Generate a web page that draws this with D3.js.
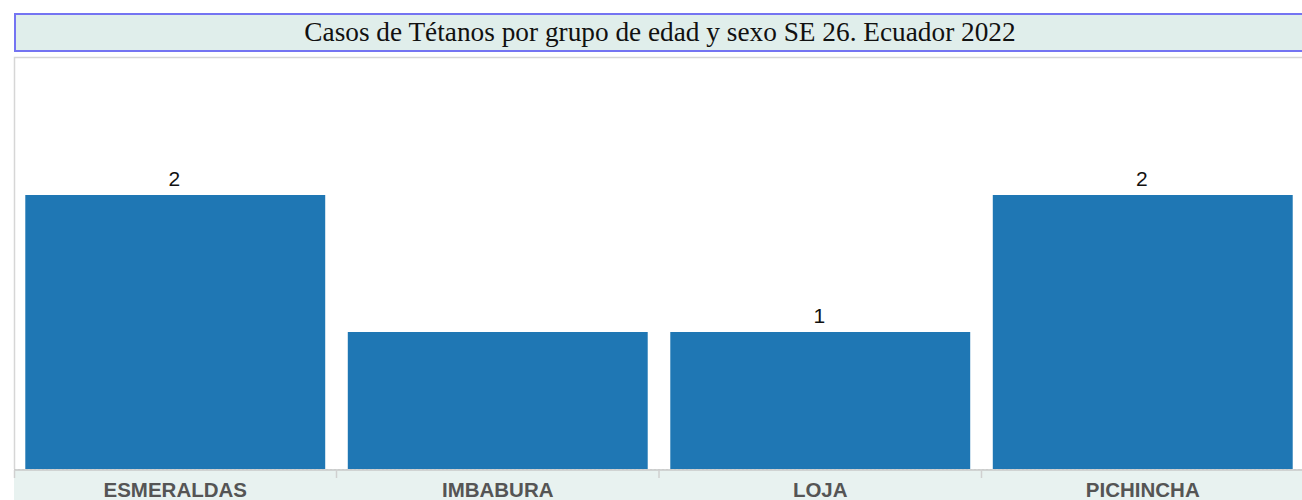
<!DOCTYPE html>
<html><head><meta charset="utf-8">
<script src="https://cdn.jsdelivr.net/npm/d3@7"></script>
<style>body{margin:0;background:#fff;}svg{display:block;}</style>
</head><body>
<svg id="chart" width="1302" height="500"></svg>
<script>
const title = "Casos de Tétanos por grupo de edad y sexo SE 26. Ecuador 2022";
const categories = ["ESMERALDAS", "IMBABURA", "LOJA", "PICHINCHA"];
const values = [2, 1, 1, 2];
const valueLabels = ["2", "", "1", "2"];
const yDomain = [0, 3];

const svg = d3.select("#chart");
const W = 1302, H = 500;
const plot = {left: 14, right: 1304, top: 57, bottom: 469};

// title box
svg.append("rect").attr("x", 15).attr("y", 14).attr("width", 1300).attr("height", 37)
  .attr("fill", "#e0eeeb").attr("stroke", "#7474f2").attr("stroke-width", 2);
svg.append("text").attr("x", 660).attr("y", 41).attr("text-anchor", "middle")
  .attr("font-family", "Liberation Serif, Times New Roman, serif").attr("font-size", 27.3)
  .attr("fill", "#111").text(title);

// plot area border
svg.append("path").attr("d", `M${plot.left+0.5},${plot.bottom}V${plot.top+0.5}H${W}`)
  .attr("fill", "none").attr("stroke", "#d6d6d6").attr("stroke-width", 1.5);

// axis band
svg.append("rect").attr("x", plot.left).attr("y", plot.bottom).attr("width", W - plot.left).attr("height", H - plot.bottom)
  .attr("fill", "#e8f2f0");

const x = d3.scaleBand().domain(categories).range([plot.left, plot.left + 4 * 322.5]).paddingInner(0.07).paddingOuter(0.035);
const y = d3.scaleLinear().domain(yDomain).range([plot.bottom, plot.bottom - 3 * 137]);

// baseline dashed
svg.append("line").attr("x1", plot.left).attr("x2", W).attr("y1", plot.bottom + 0.5).attr("y2", plot.bottom + 0.5)
  .attr("stroke", "#d8d8d8").attr("stroke-dasharray", "2,2");

svg.selectAll("rect.bar").data(categories).join("rect").attr("class", "bar")
  .attr("x", d => x(d)).attr("width", x.bandwidth())
  .attr("y", (d, i) => y(values[i])).attr("height", (d, i) => y(0) - y(values[i]))
  .attr("fill", "#1f77b4");

svg.selectAll("text.val").data(categories).join("text").attr("class", "val")
  .attr("x", d => x(d) + x.bandwidth() / 2 - 1).attr("y", (d, i) => y(values[i]) - 9)
  .attr("text-anchor", "middle").attr("font-family", "Liberation Sans, Arial, sans-serif")
  .attr("font-size", 21).attr("fill", "#111").text((d, i) => valueLabels[i]);

// axis line
svg.append("line").attr("x1", plot.left).attr("x2", W).attr("y1", plot.bottom + 1).attr("y2", plot.bottom + 1)
  .attr("stroke", "#c8c8c8").attr("stroke-width", 1.5);

// separators ticks
const step = x.step();
categories.forEach((c, i) => {
  const sx = i === 0 ? plot.left + 0.5 : x(c) - (step - x.bandwidth()) / 2;
  svg.append("line").attr("x1", sx).attr("x2", sx).attr("y1", plot.bottom + 1).attr("y2", plot.bottom + 9)
    .attr("stroke", "#d0d0d0").attr("stroke-width", 1.5);
});

svg.selectAll("text.cat").data(categories).join("text").attr("class", "cat")
  .attr("x", d => x(d) + x.bandwidth() / 2).attr("y", 497)
  .attr("text-anchor", "middle").attr("font-family", "Liberation Sans, Arial, sans-serif")
  .attr("font-weight", "bold").attr("font-size", 20.5).attr("fill", "#555").text(d => d);
</script>
</body></html>
